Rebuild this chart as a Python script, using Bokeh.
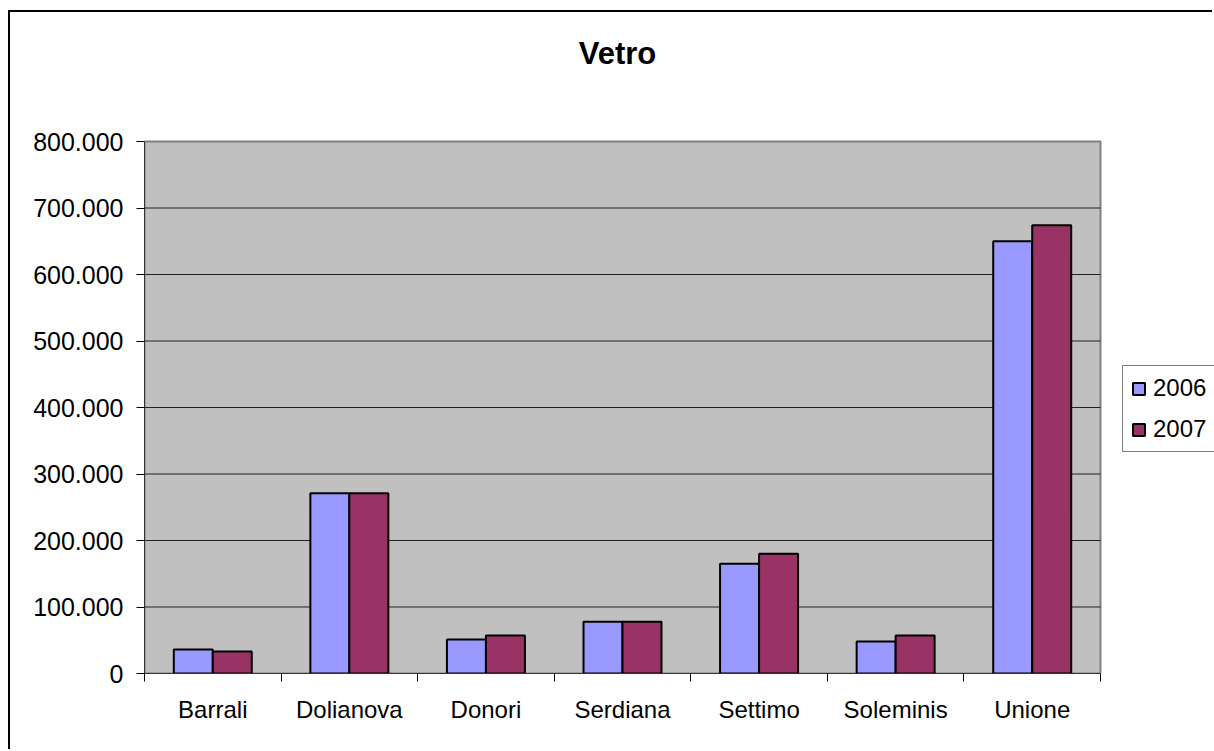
import numpy as np
from bokeh.plotting import figure
from bokeh.models import (Range1d, FixedTicker, Legend, LegendItem, Label)
from bokeh.embed import file_html
from bokeh.resources import INLINE

categories = ["Barrali", "Dolianova", "Donori", "Serdiana", "Settimo", "Soleminis", "Unione"]
v2006 = [36000, 271000, 51000, 78000, 165000, 48000, 650000]
v2007 = [33000, 271000, 57000, 78000, 180000, 57000, 674000]
y_ticks = [0, 100000, 200000, 300000, 400000, 500000, 600000, 700000, 800000]
y_tick_labels = ["0", "100.000", "200.000", "300.000", "400.000", "500.000",
                 "600.000", "700.000", "800.000"]
series_names = ["2006", "2007"]
series_colors = ["#9999FF", "#993366"]
title_text = "Vetro"

FONT = "Liberation Sans"
n = len(categories)
bar_w = 0.2855
centers = np.arange(n) + 0.5

# layout (pixels)
W, H = 1204, 739
MB_L, MB_R, MB_T, MB_B = 134, 0, 0, 78
PLOT_AREA_W, PLOT_AREA_H = 956, 532
frame_w = W - MB_L - MB_R
frame_h = H - MB_T - MB_B
y_max = y_ticks[-1]
x_end = n * frame_w / PLOT_AREA_W
y_end = y_max * frame_h / PLOT_AREA_H

p = figure(width=W, height=H, output_backend="svg", toolbar_location=None,
           x_range=Range1d(0, x_end), y_range=Range1d(0, y_end),
           min_border_left=MB_L, min_border_right=MB_R,
           min_border_top=MB_T, min_border_bottom=MB_B)
p.styles = {"border-left": "2px solid black", "border-top": "2px solid black",
            "margin-left": "8px", "margin-top": "10px"}

p.background_fill_color = "white"
p.border_fill_color = "white"
p.outline_line_color = None
p.xgrid.visible = False
p.ygrid.visible = False

# plot area
p.quad(left=[0], right=[n], bottom=[0], top=[y_max], fill_color="#C0C0C0",
       line_color="#808080", line_width=2)
# gridlines
inner = y_ticks[1:-1]
p.segment(x0=[0] * len(inner), x1=[n] * len(inner), y0=inner, y1=inner,
          line_color="#222222", line_width=1)

r1 = p.vbar(x=centers - bar_w / 2, top=v2006, width=bar_w, fill_color=series_colors[0],
            line_color="black", line_width=2)
r2 = p.vbar(x=centers + bar_w / 2, top=v2007, width=bar_w, fill_color=series_colors[1],
            line_color="black", line_width=2)

# axes
xa = p.xaxis[0]
xa.bounds = (0, n)
xa.ticker = FixedTicker(ticks=list(centers), minor_ticks=list(range(n + 1)))
xa.major_label_overrides = {float(c): lab for c, lab in zip(centers, categories)}
xa.major_tick_out = 0
xa.major_tick_in = 0
xa.minor_tick_out = 8
xa.minor_tick_in = 0
xa.minor_tick_line_color = "black"
xa.axis_line_color = "#333333"
xa.axis_line_width = 1
xa.major_label_text_font = FONT
xa.major_label_text_font_size = "24px"
xa.major_label_text_color = "black"
xa.major_label_standoff = 14

ya = p.yaxis[0]
ya.bounds = (0, y_max)
ya.ticker = FixedTicker(ticks=y_ticks)
ya.major_label_overrides = {t: lab for t, lab in zip(y_ticks, y_tick_labels)}
ya.major_tick_out = 8
ya.major_tick_in = 0
ya.minor_tick_out = 0
ya.minor_tick_in = 0
ya.major_tick_line_color = "black"
ya.axis_line_color = "#333333"
ya.major_label_text_font = FONT
ya.major_label_text_font_size = "25px"
ya.major_label_text_color = "black"
ya.major_label_standoff = 13

# title (placed inside the frame, above the plot area)
title = Label(x=473, y=620, x_units="screen", y_units="screen", text=title_text,
              text_font=FONT, text_font_size="31px", text_font_style="bold",
              text_align="center", text_baseline="alphabetic", text_color="black")
p.add_layout(title)

legend = Legend(items=[LegendItem(label=series_names[0], renderers=[r1]),
                       LegendItem(label=series_names[1], renderers=[r2])],
                location=(978, 221), orientation="vertical")
legend.label_text_font = FONT
legend.label_text_font_size = "24px"
legend.label_text_color = "black"
legend.glyph_width = 15
legend.glyph_height = 15
legend.label_standoff = 7
legend.padding = 8
legend.spacing = 13
legend.margin = 0
legend.border_line_color = "black"
legend.border_line_width = 1
legend.background_fill_color = "white"
legend.background_fill_alpha = 1
p.add_layout(legend, "center")

open("out.html", "w").write(file_html(p, INLINE))
